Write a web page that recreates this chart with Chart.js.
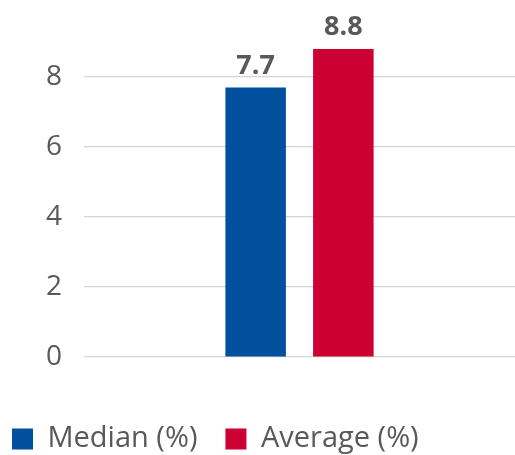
<!DOCTYPE html>
<html>
<head>
<meta charset="utf-8">
<script src="https://cdn.jsdelivr.net/npm/chart.js@4/dist/chart.umd.min.js"></script>
<style>
  html, body { margin: 0; padding: 0; background: #ffffff; overflow: hidden; }
  #wrap { width: 515px; height: 455px; position: relative; }
</style>
</head>
<body>
<div id="wrap"><canvas id="c" width="515" height="455"></canvas></div>
<script>
const categories = [''];
const seriesNames = ['Median (%)', 'Average (%)'];
const medianValues = [7.7];
const averageValues = [8.8];
const yTickValues = [0, 2, 4, 6, 8];
const yMin = 0;
const yMax = 8.8;

const labelColor = '#595959';
const fontFamily = "'Open Sans', 'Noto Sans', sans-serif";

const valueLabels = {
  id: 'valueLabels',
  afterDatasetsDraw(chart) {
    const ctx = chart.ctx;
    ctx.save();
    ctx.font = "bold 27px " + fontFamily;
    ctx.fillStyle = labelColor;
    ctx.textAlign = 'center';
    ctx.textBaseline = 'alphabetic';
    chart.data.datasets.forEach((ds, i) => {
      const meta = chart.getDatasetMeta(i);
      meta.data.forEach((bar, j) => {
        const v = ds.data[j];
        ctx.fillText(v.toFixed(1), bar.x, bar.y - 14);
      });
    });
    ctx.restore();
  }
};

new Chart(document.getElementById('c'), {
  type: 'bar',
  data: {
    labels: categories,
    datasets: [
      { label: seriesNames[0], data: medianValues, backgroundColor: '#00509E', borderWidth: 0,
        categoryPercentage: 0.407, barPercentage: 0.69 },
      { label: seriesNames[1], data: averageValues, backgroundColor: '#CC0033', borderWidth: 0,
        categoryPercentage: 0.407, barPercentage: 0.69 }
    ]
  },
  options: {
    responsive: false,
    animation: false,
    devicePixelRatio: 1,
    layout: { padding: { left: -16, right: 0, top: 49, bottom: -8.5 } },
    plugins: {
      tooltip: { enabled: false },
      legend: {
        display: true,
        position: 'bottom',
        align: 'start',
        labels: {
          boxWidth: 21,
          boxHeight: 21,
          padding: 28,
          color: labelColor,
          font: { family: fontFamily, size: 29 }
        }
      }
    },
    scales: {
      x: {
        display: true,
        grid: { display: false, drawTicks: false },
        border: { display: false },
        ticks: { display: false },
        afterFit(scale) { scale.height = 39.5; }
      },
      y: {
        min: yMin,
        max: yMax,
        grid: { color: '#d4d4d4', lineWidth: 1.2, drawTicks: false },
        border: { display: false },
        ticks: {
          color: labelColor,
          padding: 22,
          font: { family: fontFamily, size: 28 }
        },
        afterBuildTicks(scale) { scale.ticks = yTickValues.map(v => ({ value: v })); },
        afterFit(scale) { scale.width = 100; }
      }
    }
  },
  plugins: [valueLabels]
});
</script>
</body>
</html>
